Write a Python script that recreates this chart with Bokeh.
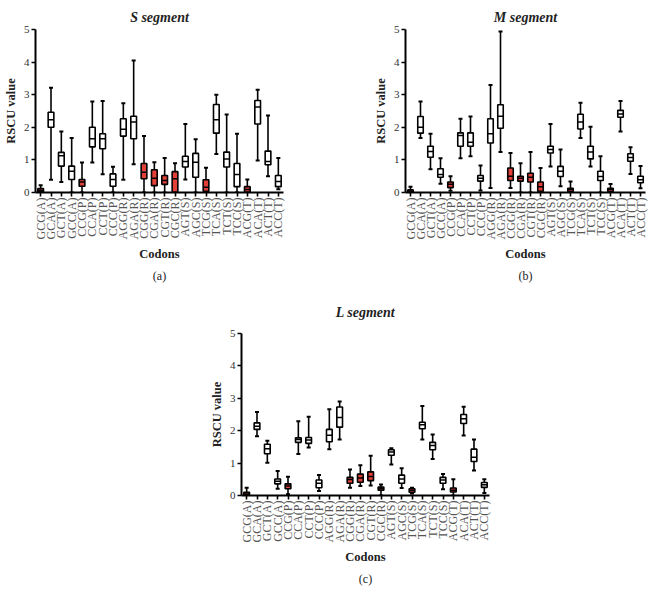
import math
from bokeh.plotting import figure
from bokeh.models import ColumnDataSource, FactorRange, Range1d, Title, Spacer
from bokeh.layouts import row, column
from bokeh.embed import file_html
from bokeh.resources import INLINE

CODONS = ["GCG(A)", "GCA(A)", "GCT(A)", "GCC(A)", "CCG(P)", "CCA(P)", "CCT(P)", "CCC(P)",
          "AGG(R)", "AGA(R)", "CGG(R)", "CGA(R)", "CGT(R)", "CGC(R)", "AGT(S)", "AGC(S)",
          "TCG(S)", "TCA(S)", "TCT(S)", "TCC(S)", "ACG(T)", "ACA(T)", "ACT(T)", "ACC(T)"]
Y_TICKS = [0, 1, 2, 3, 4, 5]

# S segment
S_LO  = [0.00, 0.39, 0.32, 0.00, 0.00, 0.92, 0.56, 0.00, 0.39, 0.87, 0.00, 0.00,
         0.00, 0.00, 0.40, 0.00, 0.00, 1.18, 0.00, 0.00, 0.00, 0.98, 0.50, 0.10]
S_Q1  = [0.02, 2.00, 0.81, 0.40, 0.19, 1.40, 1.34, 0.19, 1.73, 1.65, 0.42, 0.21,
         0.25, 0.00, 0.78, 0.47, 0.04, 1.82, 0.78, 0.18, 0.00, 2.10, 0.85, 0.18]
S_MED = [0.06, 2.23, 1.13, 0.65, 0.32, 1.65, 1.65, 0.40, 1.94, 2.16, 0.62, 0.44,
         0.37, 0.42, 0.95, 0.93, 0.16, 2.23, 1.03, 0.55, 0.09, 2.62, 0.95, 0.34]
S_Q3  = [0.12, 2.46, 1.23, 0.81, 0.40, 2.00, 1.80, 0.57, 2.26, 2.34, 0.89, 0.70,
         0.52, 0.64, 1.11, 1.20, 0.39, 2.70, 1.24, 0.89, 0.18, 2.82, 1.27, 0.52]
S_HI  = [0.22, 3.21, 1.87, 1.67, 0.92, 2.79, 2.81, 0.79, 2.74, 4.05, 1.73, 0.93,
         1.06, 0.90, 2.10, 1.63, 0.76, 3.00, 2.39, 1.80, 0.40, 3.15, 2.36, 1.06]

# M segment
M_LO  = [0.00, 1.67, 0.71, 0.27, 0.05, 1.05, 1.11, 0.06, 0.14, 1.24, 0.14, 0.00,
         0.00, 0.00, 0.80, 0.19, 0.00, 1.67, 0.80, 0.00, 0.00, 1.87, 0.57, 0.13]
M_Q1  = [0.00, 1.82, 1.08, 0.47, 0.15, 1.42, 1.42, 0.35, 1.52, 1.97, 0.37, 0.35,
         0.32, 0.04, 1.21, 0.49, 0.03, 1.95, 1.03, 0.37, 0.03, 2.31, 0.96, 0.30]
M_MED = [0.04, 2.00, 1.26, 0.55, 0.25, 1.75, 1.54, 0.44, 1.80, 2.34, 0.50, 0.44,
         0.47, 0.18, 1.32, 0.65, 0.09, 2.16, 1.24, 0.49, 0.09, 2.41, 1.07, 0.39]
M_Q3  = [0.08, 2.33, 1.42, 0.73, 0.32, 1.83, 1.83, 0.52, 2.26, 2.69, 0.75, 0.50,
         0.59, 0.32, 1.42, 0.80, 0.13, 2.40, 1.42, 0.65, 0.13, 2.52, 1.19, 0.50]
M_HI  = [0.18, 2.79, 1.80, 1.05, 0.50, 2.26, 2.33, 0.83, 3.30, 4.94, 1.21, 0.90,
         1.24, 0.75, 2.10, 1.32, 0.34, 2.75, 2.02, 1.11, 0.26, 2.81, 1.39, 0.81]

# L segment
L_LO  = [0.00, 1.83, 1.01, 0.21, 0.04, 1.28, 1.48, 0.14, 1.43, 1.73, 0.24, 0.29,
         0.31, 0.00, 0.96, 0.23, 0.06, 1.73, 1.13, 0.19, 0.00, 1.85, 0.77, 0.08]
L_Q1  = [0.00, 2.04, 1.29, 0.36, 0.21, 1.64, 1.61, 0.24, 1.66, 2.11, 0.38, 0.41,
         0.46, 0.16, 1.24, 0.38, 0.10, 2.06, 1.41, 0.38, 0.11, 2.22, 1.05, 0.25]
L_MED = [0.05, 2.14, 1.44, 0.44, 0.29, 1.73, 1.71, 0.38, 1.86, 2.41, 0.49, 0.54,
         0.59, 0.21, 1.34, 0.51, 0.16, 2.18, 1.54, 0.48, 0.16, 2.37, 1.18, 0.33]
L_Q3  = [0.10, 2.24, 1.58, 0.51, 0.36, 1.78, 1.79, 0.48, 2.04, 2.73, 0.56, 0.66,
         0.73, 0.26, 1.41, 0.63, 0.21, 2.26, 1.64, 0.56, 0.23, 2.50, 1.43, 0.40]
L_HI  = [0.24, 2.58, 1.69, 0.76, 0.58, 2.29, 2.43, 0.63, 2.66, 2.90, 0.80, 0.93,
         1.23, 0.34, 1.46, 0.84, 0.24, 2.76, 1.88, 0.66, 0.50, 2.74, 1.73, 0.50]

RED = "#E3403A"
SERIF = "Liberation Serif"


def panel(title, caption, lo, q1, med, q3, hi, fw, fh,
          b_left, b_right, title_standoff, caption_standoff):
    fills = [RED if "CG" in c else "white" for c in CODONS]
    src = ColumnDataSource(dict(codon=CODONS, lo=lo, q1=q1, med=med, q3=q3, hi=hi, fill=fills))
    p = figure(x_range=FactorRange(factors=CODONS), y_range=Range1d(0, 5),
               frame_width=fw, frame_height=fh, output_backend="svg", toolbar_location=None,
               min_border_top=0, min_border_bottom=0,
               min_border_left=b_left, min_border_right=b_right)
    p.segment(x0="codon", y0="lo", x1="codon", y1="hi", line_color="black",
              line_width=1.6, source=src)
    p.vbar(x="codon", top="q3", bottom="q1", width=0.55, fill_color="fill",
           line_color="black", line_width=1.6, source=src)
    p.scatter(x="codon", y="med", marker="dash", size=6, line_color="black",
              line_width=1.5, source=src)
    p.scatter(x="codon", y="hi", marker="dash", size=4, line_color="black",
              line_width=2, source=src)
    p.scatter(x="codon", y="lo", marker="dash", size=4, line_color="black",
              line_width=2, source=src)

    p.xgrid.grid_line_color = None
    p.ygrid.grid_line_color = None
    p.outline_line_color = None
    p.background_fill_color = "white"
    p.border_fill_color = "white"

    p.title.text = title
    p.title.align = "center"
    p.title.text_font = SERIF
    p.title.text_font_style = "bold italic"
    p.title.text_font_size = "14px"
    p.title.text_color = "#222222"
    p.title.standoff = title_standoff

    for ax in (p.xaxis[0], p.yaxis[0]):
        ax.axis_line_width = 2
        ax.axis_line_color = "black"
        ax.major_tick_line_width = 1.6
        ax.major_tick_line_color = "black"
        ax.major_tick_in = 0
        ax.major_tick_out = 4
        ax.minor_tick_line_color = None
        ax.axis_label_text_font = SERIF
        ax.axis_label_text_font_style = "bold"
        ax.axis_label_text_font_size = "12.5px"
        ax.axis_label_text_color = "#222222"
        ax.major_label_text_font = SERIF

    p.yaxis.ticker = Y_TICKS
    p.yaxis.axis_label = "RSCU value"
    p.yaxis.axis_label_standoff = 3
    p.yaxis.major_label_standoff = 2
    p.yaxis.major_label_text_font_size = "11px"
    p.yaxis.major_label_text_color = "#333333"

    p.xaxis.axis_label = "Codons"
    p.xaxis.axis_label_standoff = 5
    p.xaxis.major_label_standoff = 1
    p.xaxis.major_label_orientation = math.pi / 2
    p.xaxis.major_label_text_font_size = "12px"
    p.xaxis.major_label_text_color = "#555555"

    p.add_layout(Title(text=caption, align="center", text_font=SERIF,
                       text_font_style="normal", text_font_size="12px",
                       text_color="#222222", standoff=caption_standoff), "below")
    return p


fa = panel("S segment", "(a)", S_LO, S_Q1, S_MED, S_Q3, S_HI,
           248, 163, 28, 87, 9, 5)
fb = panel("M segment", "(b)", M_LO, M_Q1, M_MED, M_Q3, M_HI,
           240, 163, 28, 4, 9, 5)
fc = panel("L segment", "(c)", L_LO, L_Q1, L_MED, L_Q3, L_HI,
           248, 162, 28, 10, 27, 4)

layout = column(Spacer(width=10, height=3), row(fa, fb),
                Spacer(width=10, height=4),
                row(Spacer(width=206, height=10), fc))

open("out.html", "w").write(file_html(layout, INLINE))
